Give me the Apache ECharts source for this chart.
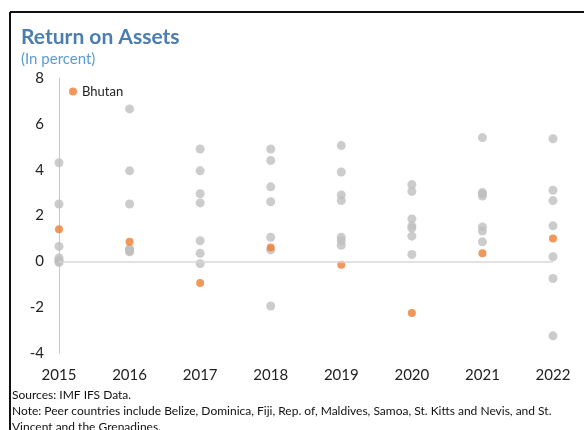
<!DOCTYPE html>
<html>
<head>
<meta charset="utf-8">
<script src="https://cdn.jsdelivr.net/npm/echarts@6/dist/echarts.min.js"></script>
<style>
  html, body { margin: 0; padding: 0; background: #fff; }
  #chart { width: 584px; height: 430px; }
</style>
</head>
<body>
<div id="chart"></div>
<script>
// years on the x axis
const years = ['2015', '2016', '2017', '2018', '2019', '2020', '2021', '2022']
// Bhutan return on assets, percent
const bhutan = [1.4, 0.85, -0.95, 0.6, -0.15, -2.25, 0.35, 1.0]
// peer countries, one list per year (order unknown)
const peers2015 = [4.3, 2.5, 0.65, 0.15, 0.05, 0.0, -0.05]
const peers2016 = [6.65, 3.95, 2.5, 0.55, 0.5, 0.45, 0.42]
const peers2017 = [4.9, 3.95, 2.95, 2.55, 0.9, 0.35, -0.1]
const peers2018 = [4.9, 4.4, 3.25, 2.6, 1.05, 0.5, -1.95]
const peers2019 = [5.05, 3.9, 2.9, 2.65, 1.05, 0.9, 0.7]
const peers2020 = [3.35, 3.05, 1.85, 1.55, 1.45, 1.1, 0.3]
const peers2021 = [5.4, 3.0, 2.95, 2.85, 1.5, 1.32, 0.85]
const peers2022 = [5.35, 3.1, 2.65, 1.55, 0.2, -0.75, -3.25]
const peers = [peers2015, peers2016, peers2017, peers2018, peers2019, peers2020, peers2021, peers2022]
const yTicks = { min: -4, max: 8, interval: 2 }

const font = 'Lato, "Open Sans", sans-serif'

const peerData = []
peers.forEach((list, i) => {
  list.forEach(v => peerData.push([i, v]))
})

const chart = echarts.init(document.getElementById('chart'))

chart.setOption({
  animation: false,
  title: {
    text: 'Return on Assets',
    subtext: '(In percent)',
    left: 16,
    top: 22,
    itemGap: 4,
    textStyle: { color: '#4A7EB0', fontSize: 21, fontWeight: 'bold', fontFamily: font },
    subtextStyle: { color: '#5B9BD5', fontSize: 15, fontFamily: font },
  },
  legend: {
    data: ['Bhutan'],
    left: 64,
    top: 80,
    icon: 'circle',
    itemWidth: 8,
    itemHeight: 8,
    itemGap: 4,
    textStyle: { color: '#222', fontSize: 13, fontFamily: font },
  },
  grid: { left: 59, right: 31, top: 78, bottom: 77 },
  xAxis: {
    type: 'category',
    data: years,
    boundaryGap: false,
    axisLine: { show: false },
    axisTick: { show: false },
    axisLabel: { color: '#222', fontSize: 15, fontFamily: font, margin: 15 },
  },
  yAxis: {
    type: 'value',
    min: yTicks.min,
    max: yTicks.max,
    interval: yTicks.interval,
    axisLine: { show: true, lineStyle: { color: '#C8C8C8', width: 1 } },
    axisTick: { show: false },
    splitLine: { show: false },
    axisLabel: { color: '#222', fontSize: 15, fontFamily: font, margin: 15 },
  },
  series: [
    {
      name: 'Peers',
      type: 'scatter',
      symbolSize: 9,
      itemStyle: { color: '#BFBFBF' },
      data: peerData,
      markLine: {
        silent: true,
        symbol: 'none',
        label: { show: false },
        lineStyle: { color: '#D9D9D9', width: 1.5, type: 'solid' },
        data: [{ yAxis: 0 }],
      },
    },
    {
      name: 'Bhutan',
      type: 'scatter',
      symbolSize: 8,
      itemStyle: { color: '#ED7D31' },
      data: bhutan.map((v, i) => [i, v]),
      z: 3,
    },
  ],
  graphic: [
    { type: 'line', shape: { x1: 10, y1: 12, x2: 584, y2: 12 }, style: { stroke: '#111', lineWidth: 2 } },
    { type: 'line', shape: { x1: 10, y1: 12, x2: 10, y2: 430 }, style: { stroke: '#111', lineWidth: 2 } },
    {
      type: 'text', left: 12, top: 389,
      style: { text: 'Sources: IMF IFS Data.', fill: '#111', font: '12px ' + font },
    },
    {
      type: 'text', left: 12, top: 405,
      style: { text: 'Note: Peer countries include Belize, Dominica, Fiji, Rep. of, Maldives, Samoa, St. Kitts and Nevis, and St.', fill: '#111', font: '12px ' + font },
    },
    {
      type: 'text', left: 12, top: 421,
      style: { text: 'Vincent and the Grenadines.', fill: '#111', font: '12px ' + font },
    },
  ],
})
</script>
</body>
</html>
